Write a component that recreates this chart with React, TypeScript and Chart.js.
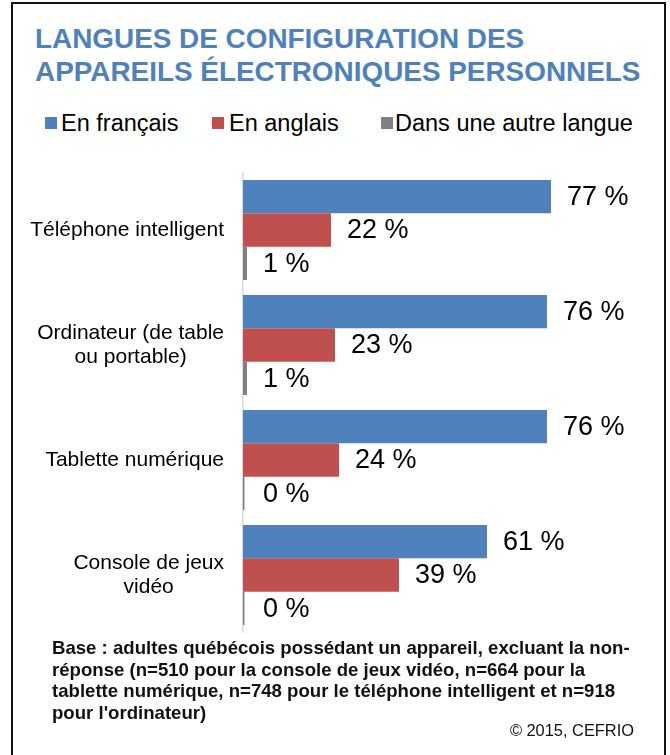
import React, { useEffect, useRef } from "react";
import { Chart, registerables } from "chart.js";

Chart.register(...registerables);

const categories: string[][] = [
  ["Téléphone intelligent"],
  ["Ordinateur (de table", "ou portable)"],
  ["Tablette numérique"],
  ["Console de jeux", "vidéo"],
];
const seriesNames = ["En français", "En anglais", "Dans une autre langue"];
const francais = [77, 76, 76, 61];
const anglais = [22, 23, 24, 39];
const autre = [1, 1, 0, 0];
const colors = ["#4F81BD", "#C0504D", "#808080"];

const titleLines = ["LANGUES DE CONFIGURATION DES", "APPAREILS ÉLECTRONIQUES PERSONNELS"];
const noteLines = [
  "Base : adultes québécois possédant un appareil, excluant la non-",
  "réponse (n=510 pour la console de jeux vidéo, n=664 pour la",
  "tablette numérique, n=748 pour le téléphone intelligent et n=918",
  "pour l'ordinateur)",
];
const credit = "© 2015, CEFRIO";

const FONT = '"Liberation Sans", Arial, Helvetica, sans-serif';

const labelPlugin = {
  id: "customLabels",
  afterDatasetsDraw(chart: any) {
    const ctx = chart.ctx;
    ctx.save();
    // value labels
    ctx.font = `27px ${FONT}`;
    ctx.fillStyle = "#000";
    ctx.textBaseline = "middle";
    ctx.textAlign = "left";
    chart.data.datasets.forEach((ds: any, di: number) => {
      const meta = chart.getDatasetMeta(di);
      meta.data.forEach((el: any, i: number) => {
        const x0 = chart.scales.x.getPixelForValue(0);
        const xEnd = Math.max(el.x, x0 + (di === 2 ? 4 : 0));
        ctx.fillText(`${ds.data[i]} %`, xEnd + 16, el.y + 1);
      });
    });
    // category labels
    const yScale = chart.scales.y;
    const rightEdge = chart.chartArea.left - 19;
    ctx.font = `21px ${FONT}`;
    ctx.textAlign = "center";
    const lineH = 24;
    categories.forEach((lines, i) => {
      const cy = yScale.getPixelForValue(i);
      const widest = Math.max(...lines.map((l) => ctx.measureText(l).width));
      const cx = rightEdge - widest / 2;
      const startY = cy - ((lines.length - 1) * lineH) / 2;
      lines.forEach((l, k) => ctx.fillText(l, cx, startY + k * lineH));
    });
    ctx.restore();
  },
};

function ChartBox() {
  const ref = useRef<HTMLCanvasElement | null>(null);
  useEffect(() => {
    if (!ref.current) return;
    const chart = new Chart(ref.current, {
      type: "bar",
      data: {
        labels: categories.map((c) => c.join(" ")),
        datasets: [
          { label: seriesNames[0], data: francais, backgroundColor: colors[0] },
          { label: seriesNames[1], data: anglais, backgroundColor: colors[1] },
          { label: seriesNames[2], data: autre, backgroundColor: colors[2], minBarLength: 1.5 },
        ],
      },
      options: {
        indexAxis: "y",
        animation: false,
        responsive: true,
        maintainAspectRatio: false,
        datasets: { bar: { categoryPercentage: 0.87, barPercentage: 1 } },
        layout: { padding: { left: 243, right: 27, top: 12.5, bottom: 7.5 } },
        plugins: { legend: { display: false }, tooltip: { enabled: false }, title: { display: false } },
        scales: {
          x: { min: 0, max: 100, display: false },
          y: {
            type: "category",
            ticks: { display: false },
            grid: { display: false },
            border: { display: true, color: "#D9D9D9", width: 1.5 },
            afterFit: (s: any) => {
              s.width = 0;
            },
          },
        },
      } as any,
      plugins: [labelPlugin],
    });
    return () => chart.destroy();
  }, []);
  return (
    <div style={{ position: "absolute", left: 0, top: 160, width: 670, height: 480 }}>
      <canvas ref={ref} />
    </div>
  );
}

export default function App() {
  const legendPos = [
    { m: 45, t: 61 },
    { m: 212, t: 229 },
    { m: 381, t: 395 },
  ];
  return (
    <div
      style={{
        position: "fixed",
        left: 0,
        top: 0,
        width: 670,
        height: 755,
        background: "#fff",
        overflow: "hidden",
        fontFamily: FONT,
      }}
    >
      <div
        style={{
          position: "absolute",
          left: 11,
          top: 2,
          width: 655,
          height: 800,
          border: "2px solid #111",
          boxSizing: "border-box",
        }}
      />
      <div
        style={{
          position: "absolute",
          left: 35,
          top: 22,
          fontWeight: "bold",
          fontSize: "27.9px",
          lineHeight: "33px",
          color: "#4F81BD",
          whiteSpace: "nowrap",
        }}
      >
        {titleLines.map((l, i) => (
          <div key={i}>{l}</div>
        ))}
      </div>
      {seriesNames.map((n, i) => (
        <React.Fragment key={n}>
          <div
            style={{
              position: "absolute",
              left: legendPos[i].m,
              top: 117,
              width: 12,
              height: 12,
              background: colors[i],
            }}
          />
          <div
            style={{
              position: "absolute",
              left: legendPos[i].t,
              top: 109,
              fontSize: "23.5px",
              lineHeight: "28px",
              color: "#000",
              whiteSpace: "nowrap",
            }}
          >
            {n}
          </div>
        </React.Fragment>
      ))}
      <ChartBox />
      <div
        style={{
          position: "absolute",
          left: 52,
          top: 637,
          fontWeight: "bold",
          fontSize: "18.6px",
          lineHeight: "21.7px",
          color: "#111",
          whiteSpace: "nowrap",
        }}
      >
        {noteLines.map((l, i) => (
          <div key={i}>{l}</div>
        ))}
      </div>
      <div
        style={{
          position: "absolute",
          right: 36,
          top: 720,
          fontSize: "16.4px",
          lineHeight: "20px",
          color: "#111",
          whiteSpace: "nowrap",
        }}
      >
        {credit}
      </div>
    </div>
  );
}
